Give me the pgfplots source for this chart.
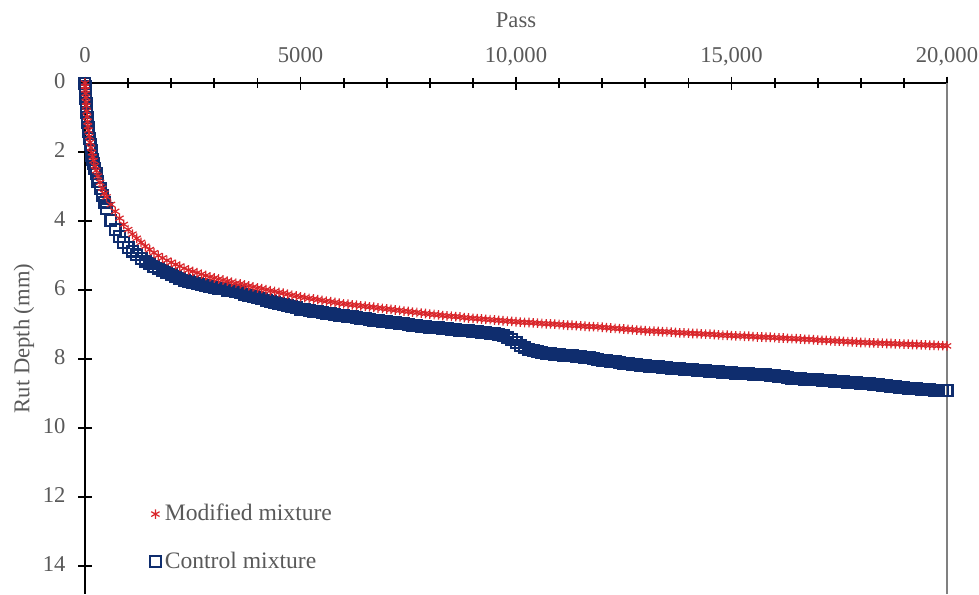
\documentclass[border=0pt]{standalone}
\usepackage{pgfplots}
\usepackage{pgfplotstable}
\pgfplotsset{compat=1.18}
\usepackage{fontspec}
\setmainfont{Liberation Serif}
\definecolor{navy}{HTML}{0F2D6E}
\definecolor{redm}{HTML}{D9262B}
\definecolor{txt}{HTML}{595959}
\pgfplotstableread{
p d
0 0
5 0.1
10 0.2
15 0.3
20 0.42
25 0.55
30 0.66
40 0.82
50 0.98
60 1.12
70 1.25
80 1.37
100 1.55
120 1.72
140 1.88
160 2.02
180 2.14
200 2.25
230 2.4
260 2.54
300 2.7
350 2.88
400 3.05
450 3.2
500 3.3
600 3.52
700 3.72
800 3.92
900 4.1
1000 4.25
1100 4.38
1200 4.5
1300 4.62
1400 4.73
1500 4.83
1600 4.92
1700 5.0
1800 5.07
1900 5.14
2000 5.2
2100 5.26
2200 5.31
2300 5.37
2400 5.42
2500 5.46
2600 5.5
2700 5.54
2800 5.58
2900 5.62
3000 5.65
3100 5.68
3200 5.71
3300 5.74
3400 5.77
3500 5.8
3600 5.82
3700 5.85
3800 5.88
3900 5.91
4000 5.94
4100 5.96
4200 5.99
4300 6.02
4400 6.04
4500 6.07
4600 6.09
4700 6.12
4800 6.15
4900 6.17
5000 6.2
5100 6.22
5200 6.24
5300 6.26
5400 6.28
5500 6.3
5600 6.32
5700 6.34
5800 6.36
5900 6.38
6000 6.4
6100 6.41
6200 6.43
6300 6.44
6400 6.46
6500 6.47
6600 6.49
6700 6.5
6800 6.52
6900 6.53
7000 6.55
7100 6.56
7200 6.58
7300 6.59
7400 6.61
7500 6.62
7600 6.64
7700 6.65
7800 6.67
7900 6.68
8000 6.7
8100 6.71
8200 6.72
8300 6.74
8400 6.75
8500 6.76
8600 6.77
8700 6.78
8800 6.8
8900 6.81
9000 6.82
9100 6.83
9200 6.84
9300 6.85
9400 6.86
9500 6.87
9600 6.88
9700 6.89
9800 6.9
9900 6.91
10000 6.92
10100 6.93
10200 6.94
10300 6.94
10400 6.95
10500 6.96
10600 6.97
10700 6.98
10800 6.98
10900 6.99
11000 7.0
11100 7.01
11200 7.02
11300 7.02
11400 7.03
11500 7.04
11600 7.05
11700 7.06
11800 7.06
11900 7.07
12000 7.08
12100 7.09
12200 7.1
12300 7.11
12400 7.12
12500 7.13
12600 7.14
12700 7.15
12800 7.16
12900 7.17
13000 7.18
13100 7.19
13200 7.19
13300 7.2
13400 7.21
13500 7.21
13600 7.22
13700 7.23
13800 7.24
13900 7.24
14000 7.25
14100 7.26
14200 7.26
14300 7.27
14400 7.28
14500 7.28
14600 7.29
14700 7.3
14800 7.31
14900 7.31
15000 7.32
15100 7.33
15200 7.33
15300 7.34
15400 7.34
15500 7.35
15600 7.36
15700 7.36
15800 7.37
15900 7.37
16000 7.38
16100 7.39
16200 7.39
16300 7.4
16400 7.41
16500 7.41
16600 7.42
16700 7.43
16800 7.43
16900 7.44
17000 7.45
17100 7.46
17200 7.46
17300 7.47
17400 7.48
17500 7.48
17600 7.49
17700 7.5
17800 7.5
17900 7.51
18000 7.52
18100 7.52
18200 7.53
18300 7.53
18400 7.54
18500 7.54
18600 7.55
18700 7.55
18800 7.56
18900 7.56
19000 7.57
19100 7.57
19200 7.58
19300 7.58
19400 7.59
19500 7.59
19600 7.6
19700 7.6
19800 7.61
19900 7.61
20000 7.62
}\modified
\pgfplotstableread{
p d
0 0
5 0.1
10 0.2
15 0.3
20 0.45
25 0.58
30 0.7
40 0.85
50 1.0
60 1.15
70 1.28
80 1.4
100 1.6
120 1.78
140 1.95
160 2.1
180 2.22
200 2.32
230 2.48
260 2.62
300 2.85
350 3.05
400 3.25
450 3.45
500 3.65
600 3.98
700 4.25
800 4.45
900 4.62
1000 4.76
1100 4.87
1200 4.98
1300 5.08
1400 5.16
1500 5.24
1600 5.31
1700 5.37
1800 5.43
1900 5.49
2000 5.55
2100 5.62
2200 5.68
2300 5.72
2400 5.76
2500 5.79
2600 5.82
2700 5.85
2800 5.87
2900 5.9
3000 5.93
3100 5.95
3200 5.97
3300 6.0
3400 6.02
3500 6.05
3600 6.08
3700 6.12
3800 6.15
3900 6.19
4000 6.23
4100 6.26
4200 6.3
4300 6.33
4400 6.37
4500 6.4
4600 6.43
4700 6.46
4800 6.49
4900 6.52
5000 6.55
5100 6.57
5200 6.59
5300 6.61
5400 6.63
5500 6.65
5600 6.67
5700 6.69
5800 6.71
5900 6.73
6000 6.75
6100 6.77
6200 6.78
6300 6.8
6400 6.82
6500 6.83
6600 6.85
6700 6.87
6800 6.88
6900 6.9
7000 6.92
7100 6.94
7200 6.95
7300 6.97
7400 6.98
7500 7.0
7600 7.02
7700 7.03
7800 7.05
7900 7.06
8000 7.08
8100 7.09
8200 7.1
8300 7.11
8400 7.12
8500 7.14
8600 7.15
8700 7.16
8800 7.17
8900 7.18
9000 7.2
9100 7.21
9200 7.22
9300 7.23
9400 7.25
9500 7.26
9600 7.28
9700 7.32
9800 7.37
9900 7.44
10000 7.52
10100 7.6
10200 7.67
10300 7.72
10400 7.76
10500 7.79
10600 7.81
10700 7.83
10800 7.85
10900 7.86
11000 7.88
11100 7.89
11200 7.9
11300 7.91
11400 7.92
11500 7.93
11600 7.95
11700 7.97
11800 7.99
11900 8.01
12000 8.03
12100 8.05
12200 8.07
12300 8.08
12400 8.1
12500 8.12
12600 8.13
12700 8.15
12800 8.17
12900 8.18
13000 8.2
13100 8.21
13200 8.22
13300 8.23
13400 8.24
13500 8.25
13600 8.26
13700 8.27
13800 8.28
13900 8.29
14000 8.3
14100 8.31
14200 8.32
14300 8.33
14400 8.34
14500 8.35
14600 8.36
14700 8.37
14800 8.38
14900 8.39
15000 8.4
15100 8.41
15200 8.42
15300 8.42
15400 8.43
15500 8.44
15600 8.45
15700 8.46
15800 8.46
15900 8.47
16000 8.48
16100 8.5
16200 8.52
16300 8.54
16400 8.55
16500 8.56
16600 8.57
16700 8.58
16800 8.58
16900 8.59
17000 8.6
17100 8.61
17200 8.62
17300 8.63
17400 8.64
17500 8.65
17600 8.66
17700 8.67
17800 8.68
17900 8.69
18000 8.7
18100 8.71
18200 8.72
18300 8.74
18400 8.75
18500 8.76
18600 8.78
18700 8.79
18800 8.8
18900 8.82
19000 8.83
19100 8.84
19200 8.85
19300 8.86
19400 8.87
19500 8.88
19600 8.89
19700 8.9
19800 8.9
19900 8.91
20000 8.92
}\control
\begin{document}
\begin{tikzpicture}
\begin{axis}[name=ax, scale only axis, width=431pt, height=255.5pt,
  xmin=0, xmax=20000, ymin=0, ymax=14.81, y dir=reverse,
  axis x line=top, axis y line=left,
  axis line style={-, black, line width=1pt},
  scaled x ticks=false,
  xtick={0,5000,10000,15000,20000},
  xticklabels={0,5000,{10,000},{15,000},{20,000}},
  minor x tick num=4,
  ytick={0,2,4,6,8,10,12,14},
  tick align=center, major tick length=6.5pt, minor tick length=5pt,
  every tick/.style={black, line width=0.9pt},
  typeset ticklabels with strut,
  tick label style={font=\fontsize{11.3}{13}\selectfont, text=txt},
  xticklabel style={yshift=-0.5pt},
  yticklabel style={xshift=-3pt},
  /pgf/number format/assume math mode=true,
  xlabel={Pass}, ylabel={Rut Depth (mm)},
  label style={font=\fontsize{11.3}{13}\selectfont, text=txt},
  xlabel style={at={(axis description cs:0.5,1)}, anchor=center, yshift=31.5pt},
  ylabel style={at={(axis description cs:-0.0708,0.5)}, anchor=center},
  clip=false,
  reverse legend,
  legend cell align=left,
  legend style={draw=none, fill=none, at={(axis description cs:0.068,0.11)}, anchor=west,
    font=\fontsize{11.8}{14}\selectfont, text=txt, row sep=10pt},
  legend image code/.code={\draw[mark repeat=2,mark phase=2,only marks,#1] plot coordinates {(0pt,0pt) (2.5pt,0pt) (5pt,0pt)};},
]
\draw[gray, line width=0.8pt] (rel axis cs:1,0) -- (rel axis cs:1,1);
\addplot[only marks, mark=square, mark size=2.7pt, navy, mark options={line width=1.1pt}] table[x=p,y=d] {\control};
\addlegendentry{Control mixture}
\addplot[only marks, mark=asterisk, mark size=2.4pt, redm, mark options={line width=0.6pt}] table[x=p,y=d] {\modified};
\addlegendentry{Modified mixture}
\end{axis}
\pgfresetboundingbox
\path ([xshift=-42.5pt]ax.south west) rectangle ([xshift=16pt,yshift=41.5pt]ax.north east);
\end{tikzpicture}
\end{document}
